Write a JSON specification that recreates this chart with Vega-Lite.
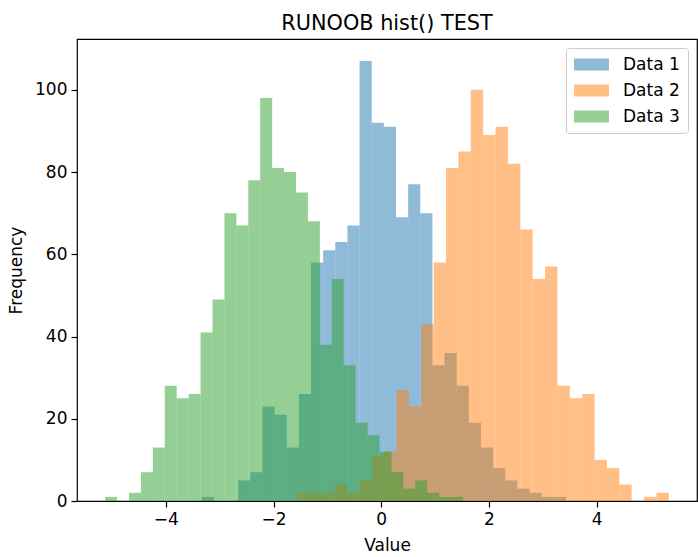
{
  "$schema": "https://vega.github.io/schema/vega-lite/v6.json",
  "autosize": {"type": "none"},
  "padding": {"left": 77, "top": 39, "right": 1, "bottom": 56},
  "width": 620,
  "height": 462,
  "background": "white",
  "title": {"text": "RUNOOB hist() TEST", "font": "DejaVu Sans", "fontSize": 20.8, "fontWeight": "normal", "color": "black", "anchor": "middle", "baseline": "alphabetic", "offset": 9, "dy": 21},
  "config": {
    "view": {"stroke": "black", "strokeWidth": 1.2},
    "axis": {"labelFont": "DejaVu Sans", "labelFontSize": 17, "labelColor": "black", "titleFont": "DejaVu Sans", "titleFontSize": 17, "titleFontWeight": "normal", "titleColor": "black", "tickColor": "black", "tickSize": 6, "tickWidth": 1.2, "domain": false, "grid": false, "labelPadding": 4},
    "axisX": {"titlePadding": 10},
    "axisY": {"titlePadding": 9},
    "legend": {"orient": "top-right", "offset": 9, "padding": 8, "fillColor": "rgba(255,255,255,0.8)", "strokeColor": "#cccccc", "cornerRadius": 3, "labelFont": "DejaVu Sans", "labelFontSize": 17, "labelColor": "black", "labelOffset": 32, "rowPadding": 8, "symbolType": "M-1,-0.706H3.118V0.706H-1Z", "symbolSize": 289, "symbolOpacity": 0.5, "symbolStrokeWidth": 0}
  },
  "data": {"values": [
    {"s":"Data 1","x0":-3.333,"x1":-3.108,"n":1},
    {"s":"Data 1","x0":-3.108,"x1":-2.882,"n":0},
    {"s":"Data 1","x0":-2.882,"x1":-2.657,"n":0},
    {"s":"Data 1","x0":-2.657,"x1":-2.431,"n":5},
    {"s":"Data 1","x0":-2.431,"x1":-2.206,"n":7},
    {"s":"Data 1","x0":-2.206,"x1":-1.981,"n":23},
    {"s":"Data 1","x0":-1.981,"x1":-1.755,"n":21},
    {"s":"Data 1","x0":-1.755,"x1":-1.530,"n":13},
    {"s":"Data 1","x0":-1.530,"x1":-1.304,"n":26},
    {"s":"Data 1","x0":-1.304,"x1":-1.079,"n":58},
    {"s":"Data 1","x0":-1.079,"x1":-0.854,"n":61},
    {"s":"Data 1","x0":-0.854,"x1":-0.628,"n":63},
    {"s":"Data 1","x0":-0.628,"x1":-0.403,"n":67},
    {"s":"Data 1","x0":-0.403,"x1":-0.177,"n":107},
    {"s":"Data 1","x0":-0.177,"x1":0.048,"n":92},
    {"s":"Data 1","x0":0.048,"x1":0.273,"n":91},
    {"s":"Data 1","x0":0.273,"x1":0.499,"n":69},
    {"s":"Data 1","x0":0.499,"x1":0.724,"n":77},
    {"s":"Data 1","x0":0.724,"x1":0.950,"n":70},
    {"s":"Data 1","x0":0.950,"x1":1.175,"n":33},
    {"s":"Data 1","x0":1.175,"x1":1.400,"n":36},
    {"s":"Data 1","x0":1.400,"x1":1.626,"n":28},
    {"s":"Data 1","x0":1.626,"x1":1.851,"n":19},
    {"s":"Data 1","x0":1.851,"x1":2.077,"n":13},
    {"s":"Data 1","x0":2.077,"x1":2.302,"n":8},
    {"s":"Data 1","x0":2.302,"x1":2.527,"n":5},
    {"s":"Data 1","x0":2.527,"x1":2.753,"n":3},
    {"s":"Data 1","x0":2.753,"x1":2.978,"n":2},
    {"s":"Data 1","x0":2.978,"x1":3.204,"n":1},
    {"s":"Data 1","x0":3.204,"x1":3.429,"n":1},
    {"s":"Data 2","x0":-1.556,"x1":-1.326,"n":2},
    {"s":"Data 2","x0":-1.326,"x1":-1.096,"n":2},
    {"s":"Data 2","x0":-1.096,"x1":-0.866,"n":2},
    {"s":"Data 2","x0":-0.866,"x1":-0.637,"n":4},
    {"s":"Data 2","x0":-0.637,"x1":-0.407,"n":2},
    {"s":"Data 2","x0":-0.407,"x1":-0.177,"n":5},
    {"s":"Data 2","x0":-0.177,"x1":0.053,"n":11},
    {"s":"Data 2","x0":0.053,"x1":0.283,"n":12},
    {"s":"Data 2","x0":0.283,"x1":0.513,"n":27},
    {"s":"Data 2","x0":0.513,"x1":0.743,"n":23},
    {"s":"Data 2","x0":0.743,"x1":0.973,"n":43},
    {"s":"Data 2","x0":0.973,"x1":1.202,"n":58},
    {"s":"Data 2","x0":1.202,"x1":1.432,"n":81},
    {"s":"Data 2","x0":1.432,"x1":1.662,"n":85},
    {"s":"Data 2","x0":1.662,"x1":1.892,"n":100},
    {"s":"Data 2","x0":1.892,"x1":2.122,"n":89},
    {"s":"Data 2","x0":2.122,"x1":2.352,"n":91},
    {"s":"Data 2","x0":2.352,"x1":2.582,"n":82},
    {"s":"Data 2","x0":2.582,"x1":2.811,"n":66},
    {"s":"Data 2","x0":2.811,"x1":3.041,"n":54},
    {"s":"Data 2","x0":3.041,"x1":3.271,"n":57},
    {"s":"Data 2","x0":3.271,"x1":3.501,"n":28},
    {"s":"Data 2","x0":3.501,"x1":3.731,"n":25},
    {"s":"Data 2","x0":3.731,"x1":3.961,"n":26},
    {"s":"Data 2","x0":3.961,"x1":4.191,"n":10},
    {"s":"Data 2","x0":4.191,"x1":4.420,"n":8},
    {"s":"Data 2","x0":4.420,"x1":4.650,"n":4},
    {"s":"Data 2","x0":4.650,"x1":4.880,"n":0},
    {"s":"Data 2","x0":4.880,"x1":5.110,"n":1},
    {"s":"Data 2","x0":5.110,"x1":5.340,"n":2},
    {"s":"Data 3","x0":-5.127,"x1":-4.906,"n":1},
    {"s":"Data 3","x0":-4.906,"x1":-4.684,"n":0},
    {"s":"Data 3","x0":-4.684,"x1":-4.463,"n":2},
    {"s":"Data 3","x0":-4.463,"x1":-4.241,"n":7},
    {"s":"Data 3","x0":-4.241,"x1":-4.020,"n":13},
    {"s":"Data 3","x0":-4.020,"x1":-3.798,"n":28},
    {"s":"Data 3","x0":-3.798,"x1":-3.577,"n":25},
    {"s":"Data 3","x0":-3.577,"x1":-3.355,"n":26},
    {"s":"Data 3","x0":-3.355,"x1":-3.134,"n":41},
    {"s":"Data 3","x0":-3.134,"x1":-2.912,"n":49},
    {"s":"Data 3","x0":-2.912,"x1":-2.691,"n":70},
    {"s":"Data 3","x0":-2.691,"x1":-2.469,"n":67},
    {"s":"Data 3","x0":-2.469,"x1":-2.248,"n":78},
    {"s":"Data 3","x0":-2.248,"x1":-2.026,"n":98},
    {"s":"Data 3","x0":-2.026,"x1":-1.805,"n":81},
    {"s":"Data 3","x0":-1.805,"x1":-1.583,"n":80},
    {"s":"Data 3","x0":-1.583,"x1":-1.362,"n":75},
    {"s":"Data 3","x0":-1.362,"x1":-1.140,"n":68},
    {"s":"Data 3","x0":-1.140,"x1":-0.919,"n":38},
    {"s":"Data 3","x0":-0.919,"x1":-0.697,"n":54},
    {"s":"Data 3","x0":-0.697,"x1":-0.476,"n":33},
    {"s":"Data 3","x0":-0.476,"x1":-0.254,"n":19},
    {"s":"Data 3","x0":-0.254,"x1":-0.033,"n":16},
    {"s":"Data 3","x0":-0.033,"x1":0.189,"n":12},
    {"s":"Data 3","x0":0.189,"x1":0.410,"n":7},
    {"s":"Data 3","x0":0.410,"x1":0.632,"n":3},
    {"s":"Data 3","x0":0.632,"x1":0.853,"n":5},
    {"s":"Data 3","x0":0.853,"x1":1.075,"n":2},
    {"s":"Data 3","x0":1.075,"x1":1.296,"n":1},
    {"s":"Data 3","x0":1.296,"x1":1.518,"n":1}
  ]},
  "mark": {"type": "bar", "opacity": 0.5},
  "encoding": {
    "x": {"field": "x0", "type": "quantitative", "title": "Value", "scale": {"domain": [-5.65, 5.863], "nice": false, "zero": false}, "axis": {"values": [-4, -2, 0, 2, 4], "format": "d"}},
    "x2": {"field": "x1"},
    "y": {"field": "n", "type": "quantitative", "title": "Frequency", "stack": null, "scale": {"domain": [0, 112.35], "nice": false}, "axis": {"values": [0, 20, 40, 60, 80, 100], "format": "d"}},
    "y2": {"datum": 0},
    "color": {"field": "s", "type": "nominal", "scale": {"domain": ["Data 1", "Data 2", "Data 3"], "range": ["#1f77b4", "#ff7f0e", "#2ca02c"]}, "legend": {"title": null}}
  }
}
